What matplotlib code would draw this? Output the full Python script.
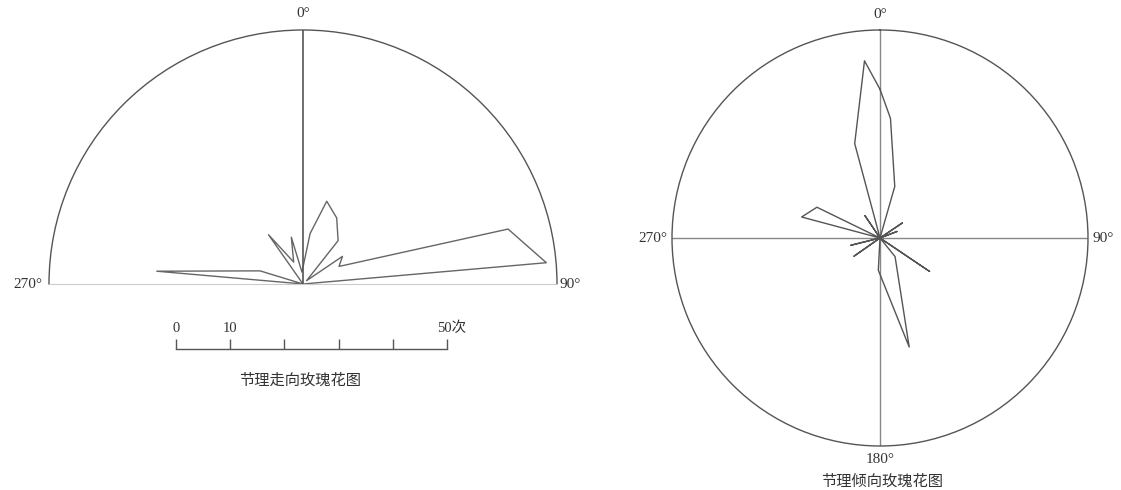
import numpy as np
import matplotlib.pyplot as plt

# strike rose (left), angle in degrees clockwise from north, count in 次
strike_deg = [270, 275, 287, 305, 315, 325, 337, 346, 355, 8, 16, 27, 39, 47, 55, 64, 75, 85, 90]
strike_cnt = [0, 27.1, 8.3, 0, 0, 11.1, 4.4, 8.9, 2.2, 9.4, 15.9, 13.7, 10.3, 0.9, 8.9, 7.4, 39.2, 45.1, 0]
strike_rmax = 46.9
scale_ticks = [0, 10, 20, 30, 40, 50]
scale_labels = {0: '0', 10: '10', 50: '50次'}

# dip rose (right)
dip_deg = [0, 5, 16, 30, 56, 62, 69, 95, 124, 135, 141, 165, 183, 200, 235, 245, 256, 270,
           285, 296, 310, 326, 335, 345, 355, 360]
dip_cnt = [28.6, 23.1, 10.3, 0, 5.2, 0, 3.5, 0, 11.5, 0, 4.6, 21.7, 6.2, 0, 6.1, 0, 5.8, 0,
           15.6, 13.5, 0, 5.2, 0, 18.8, 34.2, 28.6]
dip_rmax = 40

W, H = 1121, 490
fig = plt.figure(figsize=(W / 100, H / 100), dpi=100)

serif = ['Liberation Serif', 'Noto Sans CJK SC']
cjk = ['Noto Sans CJK SC', 'DejaVu Sans']
txt_c = '#333333'
line_c = '#555555'
fs = 11

#---------------
# left: strike rose (half circle)
# the half wedge is drawn centred in a 2R x 2R box, so the box is shifted up by R/2
cx, cy, R = 303, 284, 254
axL = fig.add_axes([(cx - R) / W, (H - cy - R / 2) / H, 2 * R / W, 2 * R / H], projection='polar')
axL.set_theta_zero_location('N')
axL.set_theta_direction(-1)
axL.set_thetamin(-90)
axL.set_thetamax(90)
axL.set_aspect('auto')
axL.set_ylim(0, strike_rmax)
axL.grid(False)
axL.set_xticks([])
axL.set_yticks([])
axL.spines['polar'].set_color('#555555')
axL.spines['polar'].set_linewidth(1.0)
axL.spines['start'].set_color('#cccccc')
axL.spines['end'].set_color('#cccccc')
axL.spines['inner'].set_visible(False)

sd = np.array(strike_deg, dtype=float)
sd = np.where(sd > 180, sd - 360, sd)
axL.plot(np.deg2rad(sd), strike_cnt, color='#666666', lw=1.0)
axL.plot([0, 0], [0, strike_rmax], color=line_c, lw=1.2)

axL.text(0, strike_rmax * 1.065, '0°', ha='center', va='center', fontsize=fs, color=txt_c, family=serif)
axL.text(-np.pi / 2, strike_rmax * 1.028, '270°', ha='right', va='center', fontsize=fs, color=txt_c, family=serif)
axL.text(np.pi / 2, strike_rmax * 1.008, '90°', ha='left', va='center', fontsize=fs, color=txt_c, family=serif)

# scale bar
axS = fig.add_axes([176 / W, (H - 349) / H, 271 / W, 10 / H])
axS.set_xlim(0, 50)
axS.set_ylim(0, 1)
axS.axis('off')
axS.plot([0, 50], [0, 0], color='#555555', lw=1.0, clip_on=False)
axS.vlines(scale_ticks, 0, 1, color='#555555', lw=1.0, clip_on=False)
for v, lab in scale_labels.items():
    if lab.endswith('次'):
        axS.text(v - 1.8, 1.4, lab, ha='left', va='bottom', fontsize=10.5, color=txt_c, family=serif)
    else:
        axS.text(v, 1.4, lab, ha='center', va='bottom', fontsize=10.5, color=txt_c, family=serif)

fig.text(300 / W, 1 - 380 / H, '节理走向玫瑰花图', ha='center', va='center', fontsize=11, color=txt_c, family=cjk)

#---------------
# right: dip rose (full circle)
cx2, cy2, R2 = 880, 238, 208
axR = fig.add_axes([(cx2 - R2) / W, (H - cy2 - R2) / H, 2 * R2 / W, 2 * R2 / H], projection='polar')
axR.set_theta_zero_location('N')
axR.set_theta_direction(-1)
axR.set_ylim(0, dip_rmax)
axR.grid(False)
axR.set_xticks([])
axR.set_yticks([])
axR.spines['polar'].set_color('#555555')
axR.spines['polar'].set_linewidth(1.0)

for a in [0, 90, 180, 270]:
    axR.plot([np.deg2rad(a)] * 2, [0, dip_rmax], color='#888888', lw=1.0)
axR.plot(np.deg2rad(dip_deg), dip_cnt, color='#555555', lw=1.0)

axR.text(0, dip_rmax * 1.075, '0°', ha='center', va='center', fontsize=fs, color=txt_c, family=serif)
axR.text(np.pi / 2, dip_rmax * 1.02, '90°', ha='left', va='center', fontsize=fs, color=txt_c, family=serif)
axR.text(np.pi, dip_rmax * 1.065, '180°', ha='center', va='center', fontsize=fs, color=txt_c, family=serif)
axR.text(3 * np.pi / 2, dip_rmax * 1.02, '270°', ha='right', va='center', fontsize=fs, color=txt_c, family=serif)

fig.text(882 / W, 1 - 481 / H, '节理倾向玫瑰花图', ha='center', va='center', fontsize=11, color=txt_c, family=cjk)

plt.savefig('out.png', dpi=100)
